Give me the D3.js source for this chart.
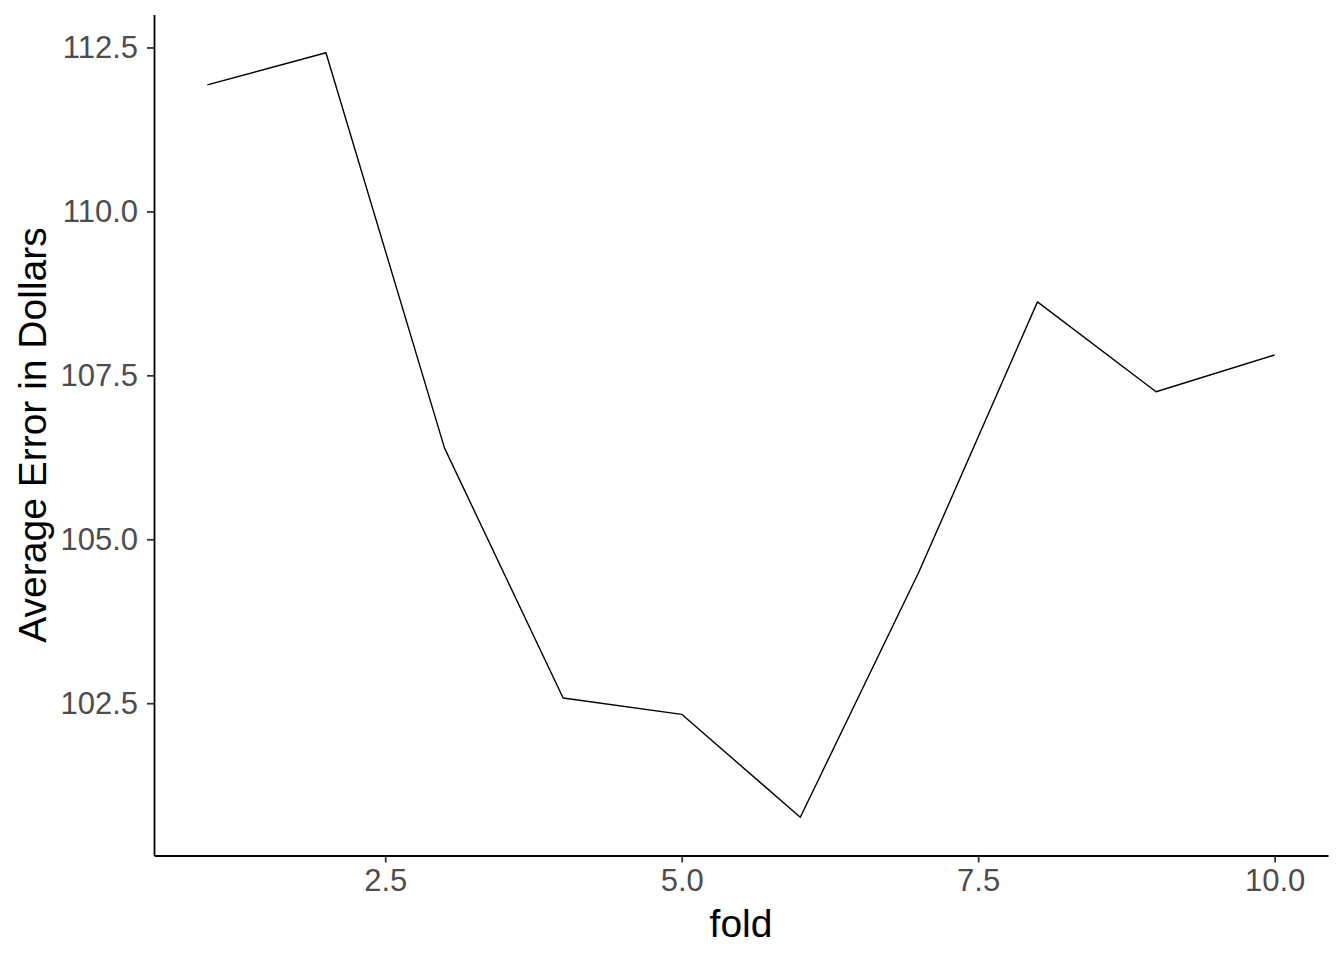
<!DOCTYPE html>
<html>
<head>
<meta charset="utf-8">
<script src="https://cdn.jsdelivr.net/npm/d3@7"></script>
<style>
    body { margin: 0; background: #fff; }
    text { font-family: "Liberation Sans", Arial, sans-serif; }
    .tick text { fill: #4d4d4d; font-size: 31px; }
    .tick line { stroke: #333333; stroke-width: 1.8px; }
    .domain { stroke: #000; stroke-width: 1.8px; }
    .axisTitle { fill: #000; font-size: 39px; }
</style>
</head>
<body>
<div id="chart"></div>
<script>
// fold number and average error
var folds = [1, 2, 3, 4, 5, 6, 7, 8, 9, 10];
var avgError = [111.93, 112.42, 106.39, 102.58, 102.33, 100.76, 104.50, 108.62, 107.25, 107.81];

var xTicks = [2.5, 5.0, 7.5, 10.0];
var yTicks = [102.5, 105.0, 107.5, 110.0, 112.5];

var width = 1344,
    height = 960;

var margin = { top: 14.5, right: 16, bottom: 104.5, left: 154 };

var svg = d3.select("#chart")
    .append("svg")
    .attr("width", width)
    .attr("height", height)

// ggplot style 5% expansion
var xExt = d3.extent(folds),
    yExt = d3.extent(avgError);
var xPad = (xExt[1] - xExt[0]) * 0.05,
    yPad = (yExt[1] - yExt[0]) * 0.05;

var x = d3.scaleLinear()
    .domain([xExt[0] - xPad, xExt[1] + xPad])
    .range([margin.left, width - margin.right])

var y = d3.scaleLinear()
    .domain([yExt[0] - yPad, yExt[1] + yPad])
    .range([height - margin.bottom, margin.top])

var data = folds.map((f, i) => ({ fold: f, err: avgError[i] }))

// x axis
svg.append("g")
    .attr("transform", "translate(0," + (height - margin.bottom) + ")")
    .call(d3.axisBottom(x).tickValues(xTicks).tickFormat(d3.format(".1f")).tickSizeInner(7).tickSizeOuter(0).tickPadding(6))
    .call(g => g.selectAll(".tick text").attr("dy", "0.71em"))

// y axis
svg.append("g")
    .attr("transform", "translate(" + margin.left + ",0)")
    .call(d3.axisLeft(y).tickValues(yTicks).tickFormat(d3.format(".1f")).tickSizeInner(7).tickSizeOuter(0).tickPadding(9))

// line
var line = d3.line()
    .x(d => x(d.fold))
    .y(d => y(d.err))

svg.append("path")
    .datum(data)
    .attr("d", line)
    .attr("fill", "none")
    .attr("stroke", "#000")
    .attr("stroke-width", 1.4)
    .attr("stroke-linejoin", "round")

// axis titles
svg.append("text")
    .attr("class", "axisTitle")
    .attr("x", (margin.left + width - margin.right) / 2)
    .attr("y", 937)
    .attr("text-anchor", "middle")
    .text("fold")

svg.append("text")
    .attr("class", "axisTitle")
    .attr("transform", "translate(46," + ((margin.top + height - margin.bottom) / 2) + ") rotate(-90)")
    .attr("text-anchor", "middle")
    .text("Average Error in Dollars")
</script>
</body>
</html>
